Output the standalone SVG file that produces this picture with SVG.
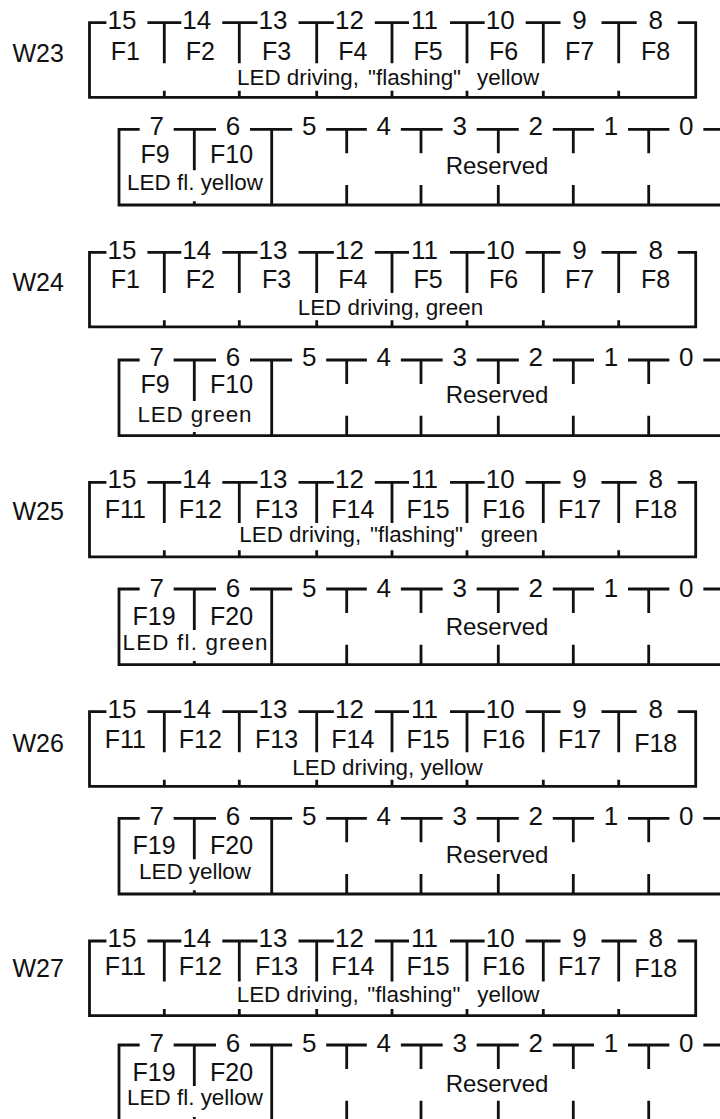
<svg xmlns="http://www.w3.org/2000/svg" xmlns:xlink="http://www.w3.org/1999/xlink" width="720" height="1119" viewBox="0 0 720 1119">
<style>
.ln{fill:none;stroke:#111;stroke-width:2.8;stroke-linejoin:miter;stroke-linecap:butt}
.t{font-family:"Liberation Sans",Arial,sans-serif;fill:#111}
.n{font-size:26px;text-anchor:middle}
.f{font-size:25px;text-anchor:middle}
.led{font-size:22.4px}
.ledc{font-size:22.4px;text-anchor:middle}
.lbl{font-size:25px}
.res{font-size:24px;text-anchor:middle}
</style>
<defs>
<path id="toprow" class="ln" d="M106.4,0 H89.5 V74.6 H695.7 V0 H677.7 M147.4,0 H181.3 M222.3,0 H257.5 M298.5,0 H333.85 M374.85,0 H409 M450,0 H484.65 M525.65,0 H560.5 M601.5,0 H636.7 M164.3,0 V40.6 M239.3,0 V40.6 M316.7,0 V40.6 M392,0 V40.6 M467,0 V40.6 M543.3,0 V40.6 M618.7,0 V40.6 M164.3,68 V74.6 M239.3,68 V74.6 M316.7,68 V74.6 M392,68 V74.6 M467,68 V74.6 M543.3,68 V74.6 M618.7,68 V74.6"/>
<path id="botrow" class="ln" d="M139.65,0 H119 V75.7 H720 M173.65,0 H216 M250,0 H292.2 M326.2,0 H366.85 M400.85,0 H442.65 M476.65,0 H518.8 M552.8,0 H594 M628,0 H669.35 M703.35,0 H720 M194.3,0 V41 M194.3,72 V75.7 M271.7,0 V75.7 M346.7,0 V24 M421,0 V24 M498.3,0 V24 M573.3,0 V24 M648.7,0 V24 M346.7,55.7 V75.7 M421,55.7 V75.7 M498.3,55.7 V75.7 M573.3,55.7 V75.7 M648.7,55.7 V75.7"/>
</defs>

<!-- W23 -->
<g id="W23">
<g transform="translate(0,22.7)">
<use xlink:href="#toprow"/>
<text class="t lbl" x="12.5" y="39">W23</text>
<g class="t n"><text x="121.9" y="6.6">15</text><text x="196.8" y="6.6">14</text><text x="273" y="6.6">13</text><text x="349.4" y="6.6">12</text><text x="424.5" y="6.6">11</text><text x="500.2" y="6.6">10</text><text x="579.5" y="6.6">9</text><text x="655.7" y="6.6">8</text></g>
<g class="t f"><text x="125.4" y="37.3">F1</text><text x="200.3" y="37.3">F2</text><text x="276.5" y="37.3">F3</text><text x="352.9" y="37.3">F4</text><text x="428" y="37.3">F5</text><text x="503.7" y="37.3">F6</text><text x="579.5" y="37.3">F7</text><text x="655.7" y="37.3">F8</text></g>
<text class="t led" y="62.3"><tspan x="237">LED driving, </tspan><tspan x="368">&quot;flashing&quot; </tspan><tspan x="477">yellow</tspan></text>
</g>
<g transform="translate(0,129.3)">
<use xlink:href="#botrow"/>
<g class="t n"><text x="156.65" y="5.7">7</text><text x="233" y="5.7">6</text><text x="309.2" y="5.7">5</text><text x="383.85" y="5.7">4</text><text x="459.65" y="5.7">3</text><text x="535.8" y="5.7">2</text><text x="611" y="5.7">1</text><text x="686.35" y="5.7">0</text></g>
<g class="t f"><text x="155" y="34">F9</text><text x="231.5" y="34">F10</text></g>
<text class="t ledc" x="195" y="60.7" textLength="136" lengthAdjust="spacing">LED fl. yellow</text>
<text class="t res" x="497" y="44.7">Reserved</text>
</g>
</g>

<!-- W24 -->
<g id="W24">
<g transform="translate(0,252.3)">
<use xlink:href="#toprow"/>
<text class="t lbl" x="12.5" y="38.7">W24</text>
<g class="t n"><text x="121.9" y="7">15</text><text x="196.8" y="7">14</text><text x="273" y="7">13</text><text x="349.4" y="7">12</text><text x="424.5" y="7">11</text><text x="500.2" y="7">10</text><text x="579.5" y="7">9</text><text x="655.7" y="7">8</text></g>
<g class="t f"><text x="125.4" y="36">F1</text><text x="200.3" y="36">F2</text><text x="276.5" y="36">F3</text><text x="352.9" y="36">F4</text><text x="428" y="36">F5</text><text x="503.7" y="36">F6</text><text x="579.5" y="36">F7</text><text x="655.7" y="36">F8</text></g>
<text class="t led" x="297.7" y="62.7">LED driving, green</text>
</g>
<g transform="translate(0,360)">
<use xlink:href="#botrow"/>
<g class="t n"><text x="156.65" y="6">7</text><text x="233" y="6">6</text><text x="309.2" y="6">5</text><text x="383.85" y="6">4</text><text x="459.65" y="6">3</text><text x="535.8" y="6">2</text><text x="611" y="6">1</text><text x="686.35" y="6">0</text></g>
<g class="t f"><text x="155" y="33.3">F9</text><text x="231.5" y="33.3">F10</text></g>
<text class="t ledc" x="194.5" y="61.7" textLength="114" lengthAdjust="spacing">LED green</text>
<text class="t res" x="497" y="42.7">Reserved</text>
</g>
</g>

<!-- W25 -->
<g id="W25">
<g transform="translate(0,482.3)">
<use xlink:href="#toprow"/>
<text class="t lbl" x="12.5" y="37.7">W25</text>
<g class="t n"><text x="121.9" y="6">15</text><text x="196.8" y="6">14</text><text x="273" y="6">13</text><text x="349.4" y="6">12</text><text x="424.5" y="6">11</text><text x="500.2" y="6">10</text><text x="579.5" y="6">9</text><text x="655.7" y="6">8</text></g>
<g class="t f"><text x="125.4" y="36">F11</text><text x="200.3" y="36">F12</text><text x="276.5" y="36">F13</text><text x="352.9" y="36">F14</text><text x="428" y="36">F15</text><text x="503.7" y="36">F16</text><text x="579.5" y="36">F17</text><text x="655.7" y="36">F18</text></g>
<text class="t led" y="59.4"><tspan x="239.3">LED driving, </tspan><tspan x="370">&quot;flashing&quot; </tspan><tspan x="480.7">green</tspan></text>
</g>
<g transform="translate(0,589)">
<use xlink:href="#botrow"/>
<g class="t n"><text x="156.65" y="7.7">7</text><text x="233" y="7.7">6</text><text x="309.2" y="7.7">5</text><text x="383.85" y="7.7">4</text><text x="459.65" y="7.7">3</text><text x="535.8" y="7.7">2</text><text x="611" y="7.7">1</text><text x="686.35" y="7.7">0</text></g>
<g class="t f"><text x="154" y="36">F19</text><text x="231.5" y="36">F20</text></g>
<text class="t ledc" x="195" y="61" textLength="145" lengthAdjust="spacing">LED fl. green</text>
<text class="t res" x="497" y="46">Reserved</text>
</g>
</g>

<!-- W26 -->
<g id="W26">
<g transform="translate(0,711.7)">
<use xlink:href="#toprow"/>
<text class="t lbl" x="12.5" y="40">W26</text>
<g class="t n"><text x="121.9" y="6.6">15</text><text x="196.8" y="6.6">14</text><text x="273" y="6.6">13</text><text x="349.4" y="6.6">12</text><text x="424.5" y="6.6">11</text><text x="500.2" y="6.6">10</text><text x="579.5" y="6.6">9</text><text x="655.7" y="6.6">8</text></g>
<g class="t f"><text x="125.4" y="36.6">F11</text><text x="200.3" y="36.6">F12</text><text x="276.5" y="36.6">F13</text><text x="352.9" y="36.6">F14</text><text x="428" y="36.6">F15</text><text x="503.7" y="36.6">F16</text><text x="579.5" y="36.6">F17</text><text x="655.7" y="40.6">F18</text></g>
<text class="t led" x="292.3" y="63.3">LED driving, yellow</text>
</g>
<g transform="translate(0,818.3)">
<use xlink:href="#botrow"/>
<g class="t n"><text x="156.65" y="6.7">7</text><text x="233" y="6.7">6</text><text x="309.2" y="6.7">5</text><text x="383.85" y="6.7">4</text><text x="459.65" y="6.7">3</text><text x="535.8" y="6.7">2</text><text x="611" y="6.7">1</text><text x="686.35" y="6.7">0</text></g>
<g class="t f"><text x="154" y="35.7">F19</text><text x="231.5" y="35.7">F20</text></g>
<text class="t ledc" x="195" y="61">LED yellow</text>
<text class="t res" x="497" y="45">Reserved</text>
</g>
</g>

<!-- W27 -->
<g id="W27">
<g transform="translate(0,941)">
<use xlink:href="#toprow"/>
<text class="t lbl" x="12.5" y="35.7">W27</text>
<g class="t n"><text x="121.9" y="6.3">15</text><text x="196.8" y="6.3">14</text><text x="273" y="6.3">13</text><text x="349.4" y="6.3">12</text><text x="424.5" y="6.3">11</text><text x="500.2" y="6.3">10</text><text x="579.5" y="6.3">9</text><text x="655.7" y="6.3">8</text></g>
<g class="t f"><text x="125.4" y="33.5">F11</text><text x="200.3" y="33.5">F12</text><text x="276.5" y="33.5">F13</text><text x="352.9" y="33.5">F14</text><text x="428" y="33.5">F15</text><text x="503.7" y="33.5">F16</text><text x="579.5" y="33.5">F17</text><text x="655.7" y="36.3">F18</text></g>
<text class="t led" y="61"><tspan x="236.7">LED driving, </tspan><tspan x="367.3">&quot;flashing&quot; </tspan><tspan x="477.3">yellow</tspan></text>
</g>
<g transform="translate(0,1045)">
<use xlink:href="#botrow"/>
<g class="t n"><text x="156.65" y="6.7">7</text><text x="233" y="6.7">6</text><text x="309.2" y="6.7">5</text><text x="383.85" y="6.7">4</text><text x="459.65" y="6.7">3</text><text x="535.8" y="6.7">2</text><text x="611" y="6.7">1</text><text x="686.35" y="6.7">0</text></g>
<g class="t f"><text x="154" y="36">F19</text><text x="231.5" y="36">F20</text></g>
<text class="t ledc" x="195" y="60" textLength="136" lengthAdjust="spacing">LED fl. yellow</text>
<text class="t res" x="497" y="46.7">Reserved</text>
</g>
</g>
</svg>
